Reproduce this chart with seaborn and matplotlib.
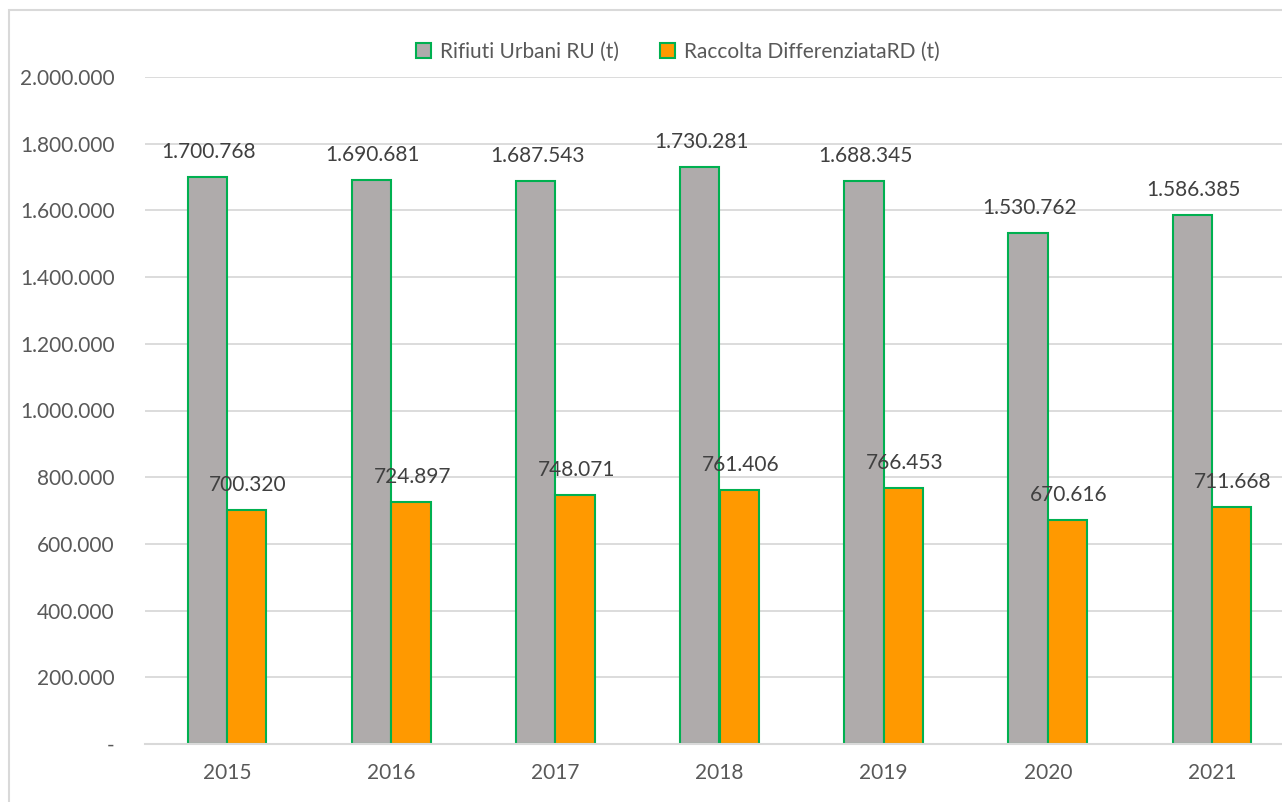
import matplotlib
matplotlib.use("Agg")
import matplotlib.pyplot as plt
import seaborn as sns
import pandas as pd
from matplotlib.patches import Rectangle
from matplotlib.ticker import FuncFormatter, MultipleLocator

years = ["2015", "2016", "2017", "2018", "2019", "2020", "2021"]
ru_values = [1700768, 1690681, 1687543, 1730281, 1688345, 1530762, 1586385]
rd_values = [700320, 724897, 748071, 761406, 766453, 670616, 711668]
series_names = ["Rifiuti Urbani RU (t)", "Raccolta DifferenziataRD (t)"]

GRAY = "#AFABAB"
ORANGE = "#FF9900"
EDGE = "#00B050"
TEXT = "#595959"
GRID = "#D9D9D9"

df = pd.DataFrame({
    "Anno": years * 2,
    "Tonnellate": ru_values + rd_values,
    "Serie": [series_names[0]] * len(years) + [series_names[1]] * len(years),
})

sns.set_theme(style="white")
plt.rcParams["font.family"] = ["Lato", "DejaVu Sans"]

W, H = 1282, 802
fig = plt.figure(figsize=(W / 100, H / 100), dpi=100)
ax = fig.add_axes([145 / W, (H - 744) / H, (1294 - 145) / W, (744 - 77) / H])

sns.barplot(data=df, x="Anno", y="Tonnellate", hue="Serie",
            palette=[GRAY, ORANGE], width=0.48, edgecolor=EDGE,
            linewidth=1.5, saturation=1, ax=ax, errorbar=None)

def it_fmt(v):
    return f"{int(round(v)):,}".replace(",", ".")

ax.set_ylim(0, 2000000)
ax.set_xlim(-0.5, len(years) - 0.5)
ax.yaxis.set_major_locator(MultipleLocator(200000))
ax.yaxis.set_major_formatter(FuncFormatter(lambda v, p: "-" if v == 0 else it_fmt(v)))
ax.grid(axis="y", color=GRID, linewidth=1.3)
ax.set_axisbelow(True)
for s in ["top", "right", "left"]:
    ax.spines[s].set_visible(False)
ax.spines["bottom"].set_color(GRID)
ax.spines["bottom"].set_linewidth(1.5)
ax.tick_params(axis="y", length=0, pad=22, labelsize=15, labelcolor=TEXT)
ax.tick_params(axis="x", length=0, pad=14, labelsize=15, labelcolor=TEXT)
ax.set_xlabel("")
ax.set_ylabel("")

for cont in ax.containers:
    for bar in cont:
        h = bar.get_height()
        ax.annotate(it_fmt(h), (bar.get_x() + bar.get_width() / 2, h),
                    xytext=(1, 18), textcoords="offset points",
                    ha="center", va="center", fontsize=15, color="#404040")

handles, labels = ax.get_legend_handles_labels()
if ax.get_legend() is not None:
    ax.get_legend().remove()
fig.legend(handles, labels, loc="center", bbox_to_anchor=(678 / W, 1 - 52 / H),
           ncol=2, frameon=False, fontsize=15, labelcolor=TEXT,
           handlelength=0.72, handleheight=0.72, handletextpad=0.4,
           columnspacing=2.0)

fig.patches.append(Rectangle((9 / W, -0.1), 1.2, (H - 9.5) / H + 0.1,
                             transform=fig.transFigure, fill=False,
                             edgecolor=GRID, linewidth=1.5, zorder=-1))

fig.savefig("out.png", dpi=100, facecolor="white")
